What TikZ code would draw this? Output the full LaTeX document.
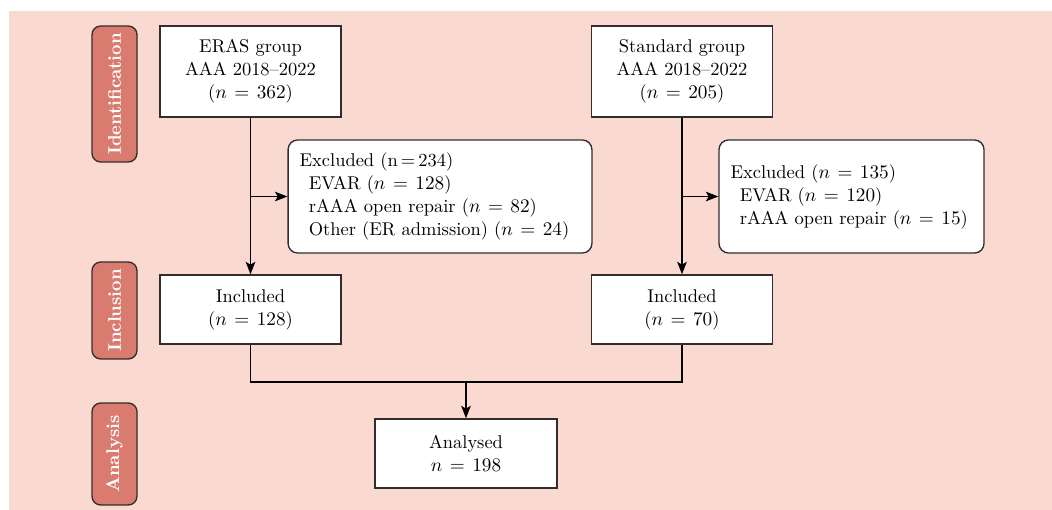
\documentclass[tikz,border=0pt]{standalone}
\usepackage{tikz}
\usepackage{amsmath}
\usetikzlibrary{arrows,arrows.meta,calc}
\definecolor{flow_bg}{RGB}{250, 217, 209}
\definecolor{flow_red}{RGB}{218, 123, 112}
\definecolor{flow_line}{RGB}{50, 45, 45}
\tikzstyle{stage}=[rectangle,rounded corners=0.45em,fill=flow_red,draw=flow_line,
  line width=0.7pt,rotate=90,text=white,font=\bfseries\fontsize{9.5}{11}\selectfont,
  minimum height=23.4pt,inner sep=2pt]
\tikzstyle{box}=[rectangle,fill=white,draw=flow_line,line width=0.7pt,align=center,
  minimum width=94pt,font=\fontsize{9.6}{12}\selectfont]
\tikzstyle{excl}=[rectangle,rounded corners=0.5em,fill=white,draw=flow_line,
  line width=0.7pt,align=left,inner xsep=6pt,minimum height=58.8pt,
  font=\fontsize{9.6}{12}\selectfont]
\tikzstyle{flow}=[-{Stealth[length=6.5pt,width=5pt,inset=1.5pt]},line width=0.7pt,draw=black]
\tikzstyle{none}=[]
\newcommand{\flowindent}{\hspace*{0.5em}}
\thickmuskip=7mu plus 2mu

\begin{document}
\begin{tikzpicture}[x=0.52pt, y=-0.52pt]
        \useasboundingbox (0, 0) rectangle (1052, 510);
        \fill [flow_bg] (9, 11) rectangle (1052, 510);
        \node [style=stage, minimum width=70.7pt] (10) at (114.5, 94) {Identification};
        \node [style=stage, minimum width=50.4pt] (11) at (114.5, 310.5) {Inclusion};
        \node [style=stage, minimum width=53pt] (12) at (114.5, 454) {Analysis};
        \node [style=box, minimum height=47.3pt] (0) at (250.5, 71.5) {ERAS group\\AAA 2018--2022\\(\(n = 362\))};
        \node [style=box, minimum height=47.3pt] (1) at (682, 71.5) {Standard group\\AAA 2018--2022\\(\(n = 205\))};
        \node [style=excl, text width=146pt] (2) at (440, 196.5) {Excluded (n\,=\,234)\\\flowindent EVAR (\(n = 128\))\\\flowindent rAAA open repair (\(n = 82\))\\\flowindent Other (ER admission) (\(n = 24\))};
        \node [style=excl, text width=125.8pt] (3) at (851.5, 196.5) {Excluded (\(n = 135\))\\\flowindent EVAR (\(n = 120\))\\\flowindent rAAA open repair (\(n = 15\))};
        \node [style=box, minimum height=35.9pt] (4) at (250.5, 309.5) {Included\\(\(n = 128\))};
        \node [style=box, minimum height=35.9pt] (5) at (682, 309.5) {Included\\(\(n = 70\))};
        \node [style=box, minimum height=35.9pt, minimum width=94.6pt] (6) at (466, 453.5) {Analysed\\\(n = 198\)};
        \coordinate (7) at (466, 382);
        \draw [style=flow] (0) to (4);
        \draw [style=flow] (1) to (5);
        \draw [style=flow] (0.south |- 2.west) to (2.west);
        \draw [style=flow] (1.south |- 3.west) to (3.west);
        \draw [line width=0.7pt] (4.south) |- (7) -| (5.south);
        \draw [style=flow] (7) to (6);
    \end{tikzpicture}
\end{document}
